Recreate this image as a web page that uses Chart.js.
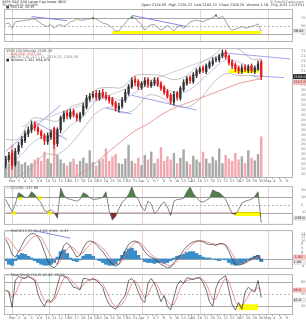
<!DOCTYPE html>
<html lang="en">
<head>
<meta charset="UTF-8">
<title>$SPX</title>
<script src="https://cdn.jsdelivr.net/npm/chart.js"></script>
<style>
  body { margin: 0; background: #fff; width: 306px; height: 320px; overflow: hidden; position: relative; }
  canvas { position: absolute; left: 0; }
</style>
</head>
<body>
<canvas id="pRsi" width="306" height="45" style="top:0px"></canvas>
<canvas id="pPrice" width="306" height="138" style="top:45px"></canvas>
<canvas id="pCci" width="306" height="44" style="top:183px"></canvas>
<canvas id="pMacd" width="306" height="44" style="top:227px"></canvas>
<canvas id="pStoch" width="306" height="49" style="top:271px"></canvas>

<script>
  // --- categories / x ticks (89 slots, 80 with data) ---
  const SLOTS = 89;
  const xTickPos = [2,4,6,8,10,11,13,15,17,19,20,22,24,26,28,29,31,33,35,37,38,40,
                    42,44,46,47,49,51,53,55,57,58,60,62,64,66,68,70,72,73,75,77,79,
                    81,83,85,87];
  const xTickText = ['Mar','3','4','5','6','9','10','11','12','13','16','17','18','19','20','23','24','25','26','27','30','31',
                     'Apr','2','6','7','8','9','10','13','14','15','16','17','20','21','22','23','24','27','28','29','30',
                     'May','4','5','6'];

  // --- price candles ---
  const opens = [2020,2025,2031,2020,2033,2040,2044,2051,2055,2061, 2057,2053,2049,2043,2048,2056,2041,2055,2066,2072,
                 2068,2074,2070,2066,2071,2078,2086,2089,2092,2087, 2093,2090,2088,2086,2082,2076,2079,2085,2092,2099,
                 2106,2104,2098,2101,2106,2100,2102,2106,2102,2098, 2094,2090,2083,2092,2087,2096,2102,2108,2104,2110,
                 2114,2118,2114,2119,2122,2126,2126,2130,2134,2130, 2124,2121,2118,2114,2119,2115,2120,2114,2117,2124];
  const closes = [2025,2029,2019,2033,2039,2045,2051,2055,2060,2057, 2053,2049,2044,2049,2052,2040,2055,2067,2071,2069,
                  2073,2070,2067,2071,2079,2087,2089,2091,2088,2092, 2089,2087,2085,2081,2077,2079,2085,2093,2099,2105,
                  2103,2099,2102,2105,2101,2103,2105,2101,2097,2093, 2089,2084,2091,2088,2097,2103,2107,2105,2111,2115,
                  2117,2115,2120,2123,2125,2127,2130,2133,2129,2123, 2120,2117,2115,2118,2116,2119,2115,2118,2122,2109];
  const highs = [2028,2032,2034,2036,2042,2048,2054,2058,2064,2063, 2059,2055,2051,2052,2055,2058,2057,2069,2074,2075,
                 2076,2076,2072,2073,2082,2090,2092,2094,2095,2095, 2096,2093,2090,2088,2084,2082,2088,2096,2101,2108,
                 2109,2106,2104,2108,2108,2105,2108,2108,2104,2100, 2096,2092,2094,2094,2099,2106,2109,2110,2113,2117,
                 2119,2120,2122,2125,2128,2129,2132,2136,2136,2131, 2126,2123,2120,2121,2121,2121,2122,2120,2125,2126];
  const lows = [2016,2022,2015,2018,2030,2037,2042,2048,2052,2054, 2050,2046,2040,2040,2045,2036,2038,2052,2063,2066,
                2066,2068,2064,2063,2069,2076,2084,2087,2085,2085, 2087,2085,2082,2079,2074,2073,2077,2083,2090,2097,
                2100,2096,2096,2099,2098,2098,2100,2099,2095,2091, 2087,2081,2080,2085,2085,2094,2100,2102,2102,2108,
                2112,2113,2112,2117,2120,2124,2124,2128,2127,2121, 2117,2114,2112,2112,2114,2113,2113,2112,2115,2106];
  const volume = [45,30,70,40,35,28,32,25,30,38, 42,35,55,40,30,65,48,38,30,25, 33,40,28,35,42,30,58,32,25,36,
                  40,62,35,45,50,30,28,40,70,35, 30,42,26,48,38,55,30,40,65,35, 45,38,52,30,42,60,34,28,46,38,
                  32,55,40,30,44,36,62,30,48,40, 35,52,38,45,30,58,42,36,50,88];
  const priceTicks = [2010,2015,2020,2025,2030,2035,2040,2045,2050,2055,2060,2065,2070,2075,2080,2085,2090,2095,2100,2105,2110,2115,2120,2125,2130,2135];

  // bands / averages read every 4th bar
  const bandIdx = [0,4,8,12,16,20,24,28,32,36,40,44,48,52,56,60,64,68,72,76,79];
  const bbUpper = [2045,2046,2066,2066,2064,2078,2083,2096,2098,2098,2110,2111,2110,2106,2110,2122,2130,2140,2137,2127,2127];
  const bbLower = [2005,2008,2016,2030,2030,2040,2056,2072,2078,2072,2076,2090,2088,2080,2078,2086,2102,2112,2110,2110,2106];
  const bbMid   = [2025,2027,2041,2048,2047,2059,2069,2084,2088,2085,2093,2100,2099,2093,2094,2104,2116,2126,2124,2118,2116];
  const ma200Idx = [20,24,28,32,36,40,44,48,52,56,60,64,68,72,76,79];
  const ma200    = [2004,2012,2022,2033,2044,2054,2061,2070,2077,2082,2087,2092,2097,2102,2105,2107];

  // trend lines: [startIdx, startVal, endIdx, endVal]
  const priceTrends = [[5,2058,68,2133],[0,2033,17,2080],[9,2063,19,2045],[31,2077,39,2071],
                       [39,2090,59,2075],[68,2133,88,2127],[76,2110,86,2108]];
  const priceHighlight = [69,2114.5,78,2114.5];

  // --- RSI ---
  const rsi = [56,58,45,61,63,63,65,65,68,68, 63,56,52,49,54,45,52,54,49,54, 61,63,68,65,65,68,68,70,68,63,
               58,56,52,45,38,38,49,58,68,72, 70,61,54,40,49,54,54,47,40,45, 52,45,38,47,52,45,52,61,63,65,
               63,61,65,68,72,77,70,75,63,47, 40,43,45,49,45,47,49,52,56,38];
  const rsiMarks = [27,39,65];
  const rsiTrends = [[8,74,19,64],[39,77,56,49]];
  const rsiHighlight = [33,34,79,34];
  const rsiTicks = [30,50,70];

  // --- CCI ---
  const cci = [75,-12,-88,12,162,138,100,100,175,138, 75,25,-75,-88,-62,-100,-175,225,125,88,
               75,62,50,75,162,138,100,75,75,88, 100,175,-75,-200,-150,-50,38,75,138,238,
               125,75,-25,-75,50,12,-112,-75,0,38, -25,-138,50,75,75,88,175,238,150,100,
               50,38,62,88,200,175,162,125,75,-25, -112,-125,-60,25,50,62,75,112,175,-238];
  const cciBoxes = [[2,-106,3,-106],[4,94,5,94],[10,94,11,94],[13,-106,14,-106],[71,-119,79,-119]];
  const cciTicks = [-200,-100,0,100,200];

  // --- MACD ---
  const macd = [11,7.5,2.5,1,4,7.5,11,13,14,14, 12.5,9,4,-1,-4,-5,-3,2.5,7.5,9,
                7,4,1,2,6,9,10,9.5,8,6, 4,1.5,-1,-3,-4,-3,1,5,8,9.5,
                10,9,7,4,2,1,0,-1.5,-3,-4, -5,-4.5,-2,0,2,5,7,8.5,9.5,10,
                10,9.5,8.5,8,8,7.5,8.5,8.5,7.5,4, 0,-3,-3.5,-3,-2,-1,0,1,2,-1];
  const macdSignal = [12,11,8.5,6,4,5,7,9.5,11.5,12.5, 13,12,9,5,1.5,-1.5,-3,-1,2.5,5.5,
                      7,6,4,2.5,3.5,6,8,9.5,9,7.5, 6,4,1.5,-0.5,-2.5,-3,-1.5,2,5,7.5,
                      9,9.5,8.5,6.5,4,2.5,1,0,-1.5,-2.5, -3.5,-4,-3,-1.5,0.5,3,5,7,8.5,9.5,
                      10,10,9.5,9,8.5,8,8,8.5,8,6, 3,0,-2,-3,-2.5,-1.5,-0.5,0.5,1.5,1];
  const macdHist = [-1,-3,-3.5,-1,2,3,2.5,1.5,0.5,-1, -2,-3,-3.5,-3.5,-3,-2,1,4,5,3,
                    0.5,-1,-1.5,-0.5,1.5,2.5,2.5,1.5,0,-1, -2,-3,-3.5,-3.5,-3,-1,2,4,5.5,6,
                    4.5,2,0,-1.5,-2,-2,-2.5,-2,-2,-2.5, -2,-1,0.5,1.5,2,2.5,3.5,4,4,3,
                    2,1,0.5,0.5,0,-0.5,-1,0,-0.5,-2, -3,-3.5,-3,-2.5,-1.5,-0.5,0.5,1.5,2,-1.5];
  const macdTrends = [[8,16,20,11.5]];
  const macdTicks = [-4,-2,0,2,4,6,8,10,12,14];

  // --- Slow stochastic ---
  const stochK = [60,55,17,84,94,91,89,96,89,84, 50,31,19,36,31,41,72,100,94,91, 79,67,65,60,89,89,84,89,84,77,
                  67,41,24,17,12,24,36,48,84,89, 77,55,36,29,77,89,77,55,31,46, 19,10,41,72,84,77,91,89,86,91,
                  91,79,60,31,19,65,84,91,96,60, 24,10,29,12,55,67,60,55,84,41];
  const stochD = [58,57,40,50,70,88,91,92,91,88, 72,52,33,30,29,34,50,72,90,94, 88,78,70,63,72,82,87,87,86,82,
                  75,60,42,27,18,18,25,36,58,76, 84,72,55,40,48,66,80,72,52,44, 32,24,24,42,66,78,84,86,88,89,
                  90,86,76,56,36,38,56,78,90,82, 58,32,21,18,32,45,60,60,66,60];
  const stochHighlight = [72,17,78,17];
  const stochTicks = [20,50,80];

  // vertical separators (category positions) and their colours
  const vLines = [[2,'#c4dcc4'],[13.5,'#c4dcc4'],[27,'#f2d0d0'],[42,'#f2d0d0'],[60,'#f2d0d0'],[81,'#f2d0d0']];

  Chart.defaults.font.family = '"DejaVu Sans", sans-serif';
  Chart.defaults.font.size = 3.5;

  const xLabels = new Array(SLOTS).fill('');
  xTickPos.forEach((p, k) => { xLabels[p] = xTickText[k]; });

  const isUp = closes.map((c, i) => c >= opens[i]);
  const candleColor = isUp.map(u => u ? '#333' : '#e41818');
  const volColor = isUp.map(u => u ? '#a8a8a8' : '#f2a6ae');

  function sparse(idx, vals) {
    const out = new Array(SLOTS).fill(null);
    idx.forEach((p, k) => { out[p] = vals[k]; });
    return out;
  }
  function seg(t) {
    return sparse([t[0], t[2]], [t[1], t[3]]);
  }
  function line(data, color, width, extra) {
    return Object.assign({ type: 'line', data: data, borderColor: color, borderWidth: width,
      pointRadius: 0, spanGaps: true, tension: 0, fill: false }, extra || {});
  }

  function decor(d) {
    return {
      id: 'decor',
      beforeDatasetsDraw(chart) {
        const { ctx, chartArea: a, scales: { x, y } } = chart;
        ctx.save();
        ctx.lineWidth = 1;
        vLines.forEach(([p, c]) => {
          const px = Math.round(x.getPixelForValue(p)) + 0.5;
          ctx.strokeStyle = c;
          ctx.beginPath(); ctx.moveTo(px, a.top); ctx.lineTo(px, a.bottom); ctx.stroke();
        });
        (d.hLines || []).forEach(([v, c, dash]) => {
          const py = Math.round(y.getPixelForValue(v)) + 0.5;
          ctx.strokeStyle = c;
          ctx.setLineDash(dash ? [2, 2] : []);
          ctx.beginPath(); ctx.moveTo(a.left, py); ctx.lineTo(a.right, py); ctx.stroke();
        });
        ctx.restore();
      },
      afterDraw(chart) {
        const { ctx, chartArea: a, scales: { y } } = chart;
        ctx.save();
        ctx.strokeStyle = '#b4b4b4';
        ctx.lineWidth = 1;
        ctx.strokeRect(a.left + 0.5, a.top + 0.5, a.right - a.left, a.bottom - a.top);
        ctx.font = '3.5px "DejaVu Sans"';
        ctx.textBaseline = 'middle';
        (d.texts || []).forEach(([tx, ty, s, c, al]) => {
          ctx.fillStyle = c; ctx.textAlign = al || 'left'; ctx.fillText(s, tx, ty);
        });
        (d.boxes || []).forEach(([v, s, bg, fg]) => {
          const py = y.getPixelForValue(v);
          ctx.fillStyle = bg; ctx.fillRect(a.right + 1, py - 2.5, 13, 5);
          ctx.fillStyle = fg; ctx.textAlign = 'left'; ctx.fillText(s, a.right + 1.5, py);
        });
        ctx.restore();
      }
    };
  }

  function xScale(show) {
    if (!show) return { display: false, offset: true };
    return {
      offset: true,
      grid: { display: true, drawOnChartArea: false, tickLength: 2,
              color: c => xLabels[c.index] ? '#aaa' : 'rgba(0,0,0,0)' },
      border: { display: false },
      ticks: { autoSkip: false, maxRotation: 0, padding: 0, color: '#666',
               callback: (v, i) => xLabels[i] },
      afterFit: s => { s.height = 6; }
    };
  }
  function yScale(min, max, ticks, fmt) {
    return {
      position: 'right', min: min, max: max,
      grid: { display: false }, border: { display: false },
      afterBuildTicks: s => { s.ticks = ticks.map(v => ({ value: v })); },
      afterFit: s => { s.width = 14; },
      ticks: { autoSkip: false, padding: 1, color: '#777', callback: fmt || (v => v) }
    };
  }
  function panel(id, datasets, y, showX, pad, deco, extraScales) {
    return new Chart(document.getElementById(id), {
      type: 'bar',
      data: { labels: xLabels, datasets: datasets },
      options: {
        responsive: false, animation: false, events: [],
        layout: { padding: pad },
        plugins: { legend: { display: false }, tooltip: { enabled: false } },
        scales: Object.assign({ x: xScale(showX), y: y }, extraScales || {})
      },
      plugins: [decor(deco)]
    });
  }

  // RSI panel
  panel('pRsi', [
    line(seg(rsiHighlight), '#ffff00', 3, { order: 9, borderCapStyle: 'butt' }),
    ...rsiTrends.map(t => line(seg(t), '#7b7be6', 0.9, { order: 5 })),
    line(rsi, '#7a7a7a', 0.7, { order: 2 }),
    line(sparse(rsiMarks, rsiMarks.map(i => rsi[i])), '#2e7d32', 0,
         { showLine: false, pointRadius: 1.4, pointStyle: 'rect', pointBackgroundColor: '#3d8a3d', pointBorderWidth: 0, order: 1 })
  ], yScale(13, 93, rsiTicks), false, { left: 4, right: 0, top: 9, bottom: 1 }, {
    hLines: [[70, '#a8a8a8', false], [50, '#b8b8b8', true], [30, '#a8a8a8', false]],
    texts: [[2, 2, '$SPX S&P 500 Large Cap Index INDX', '#333'],
            [2, 4.6, '30-Apr-2015 3:00pm', '#666'],
            [6, 7.2, '\u25a0 RSI(14) 38.35', '#444'],
            [304, 2, '\u00a9 StockCharts.com', '#777', 'right'],
            [304, 4.6, 'Open 2124.05  High 2126.22  Low 2105.13  Close 2108.29  Volume 1.1B  Chg -6.61 (-0.31%)', '#333', 'right']],
    boxes: [[rsi[79], rsi[79].toFixed(2), '#e8e8e8', '#222']]
  });

  // Price panel
  panel('pPrice', [
    { type: 'bar', yAxisID: 'yv', data: volume, backgroundColor: volColor, grouped: false,
      barPercentage: 0.75, categoryPercentage: 1, order: 20 },
    line(sparse(ma200Idx, ma200), '#e89090', 0.9, { tension: 0.3, order: 12 }),
    line(seg(priceHighlight), '#ffff00', 3.5, { order: 11, borderCapStyle: 'butt' }),
    line(sparse(bandIdx, bbUpper), '#a8a8a8', 0.7, { tension: 0.35, order: 8 }),
    line(sparse(bandIdx, bbLower), '#a8a8a8', 0.7, { tension: 0.35, order: 8 }),
    line(sparse(bandIdx, bbMid), '#a0aae6', 0.7, { tension: 0.35, order: 8 }),
    ...priceTrends.map((t, k) => line(seg(t), k === 0 ? '#c2c2d2' : '#8c8ce8', 0.8, { order: 6 })),
    { type: 'bar', data: lows.map((l, i) => [l, highs[i]]), backgroundColor: candleColor,
      grouped: false, barThickness: 0.7, order: 3 },
    { type: 'bar', data: opens.map((o, i) => [o, closes[i]]), backgroundColor: candleColor,
      grouped: false, barThickness: 1.6, order: 2 }
  ], yScale(2007, 2138, priceTicks), true, { left: 4, right: 0, top: 2, bottom: 0 }, {
    texts: [[6, 6, '$SPX (60 Minute) 2108.29', '#555'],
            [6, 9, '\u2014 MA(200) 2107.04', '#d04848'],
            [6, 12, '\u2014 BB(20,2.0) 2127.11, 2116.23, 2105.35', '#777'],
            [6, 15, '\u25a0 Volume 1,102,934,976', '#333']],
    boxes: [[closes[79], closes[79].toFixed(1), '#222', '#fff'], [ma200[ma200.length - 1] - 4, ma200[ma200.length - 1].toFixed(1), '#f3c0c0', '#822']]
  }, { yv: { display: false, min: 0, max: 280 } });

  // CCI panel
  panel('pCci', [
    ...cciBoxes.map(t => line(seg(t), '#ffff00', 4, { order: 9, borderCapStyle: 'butt' })),
    line(cci, '#555', 0.7, { order: 2, fill: { target: { value: 100 }, above: '#4f7f46', below: 'rgba(0,0,0,0)' } }),
    line(cci, 'rgba(0,0,0,0)', 0, { order: 3, fill: { target: { value: -100 }, above: 'rgba(0,0,0,0)', below: '#8a2b2b' } })
  ], yScale(-250, 250, cciTicks), false, { left: 4, right: 0, top: 3, bottom: 1 }, {
    hLines: [[100, '#a8a8a8', false], [0, '#b8b8b8', true], [-100, '#a8a8a8', false]],
    texts: [[6, 5.5, '\u2014 CCI(20) -237.89', '#444']],
    boxes: [[-175, cci[79].toFixed(1), '#e8e8e8', '#222']]
  });

  // MACD panel
  panel('pMacd', [
    { type: 'bar', data: macdHist, backgroundColor: '#3a8cc6', grouped: false,
      barPercentage: 1, categoryPercentage: 1, order: 10 },
    ...macdTrends.map(t => line(seg(t), '#7b7be6', 0.9, { order: 5 })),
    line(macdSignal, '#e36a6a', 0.7, { order: 3 }),
    line(macd, '#333', 0.7, { order: 2 })
  ], yScale(-5, 16, macdTicks), false, { left: 4, right: 0, top: 1, bottom: 1 }, {
    hLines: [[0, '#a8a8a8', false]],
    texts: [[6, 4, '\u2014 MACD(12,26,9) -1.02, 0.95, -1.97', '#444']],
    boxes: [[macd[79] + 2, macd[79].toFixed(2), '#f3c0c0', '#822'], [macd[79] - 1, macdSignal[79].toFixed(2), '#e8e8e8', '#222']]
  });

  // Slow stochastic panel
  panel('pStoch', [
    line(seg(stochHighlight), '#ffff00', 6, { order: 9, borderCapStyle: 'butt' }),
    line(stochD, '#e36a6a', 0.7, { order: 3 }),
    line(stochK, '#333', 0.7, { order: 2 })
  ], yScale(0, 100, stochTicks), true, { left: 4, right: 0, top: 2, bottom: 0 }, {
    hLines: [[80, '#a8a8a8', false], [50, '#b8b8b8', true], [20, '#a8a8a8', false]],
    texts: [[6, 4.5, '\u2014 Slow Stoch (14,3) 41.06, 60.13', '#444']],
    boxes: [[stochD[79], stochD[79].toFixed(1), '#f3c0c0', '#822'], [stochK[79] - 6, stochK[79].toFixed(1), '#e8e8e8', '#222']]
  });
</script>
</body>
</html>
